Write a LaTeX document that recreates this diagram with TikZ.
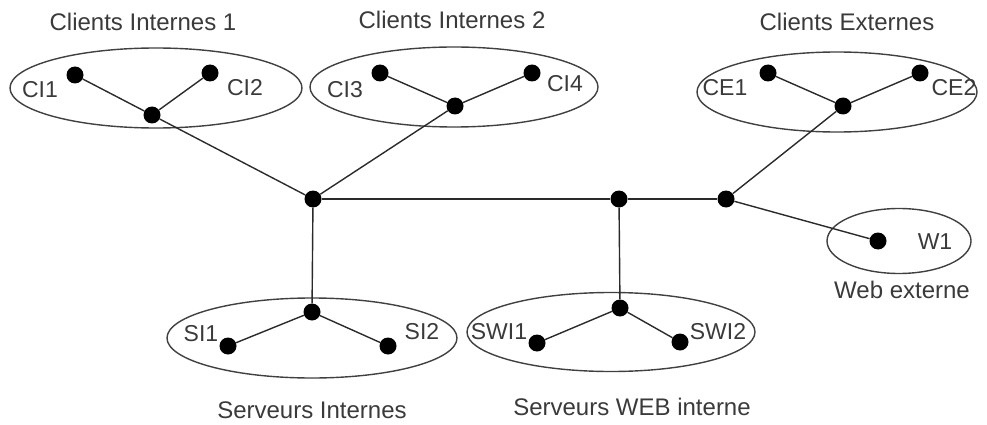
\documentclass[tikz,border=0pt]{standalone}
\usepackage{fontspec}
\setmainfont{Liberation Sans}
\usetikzlibrary{shapes.geometric}
\definecolor{txt}{HTML}{3A3A3A}
\definecolor{ln}{HTML}{2A2A2A}
\definecolor{elc}{HTML}{404040}
\tikzset{
  dot/.style={circle, fill=black, inner sep=0pt, minimum size=17pt},
  grp/.style={ellipse, draw=elc, line width=1.4pt, inner sep=0pt},
  lbl/.style={text=txt, font=\fontsize{23}{25}\selectfont, inner sep=0pt},
  ttl/.style={text=txt, font=\fontsize{24}{26}\selectfont, inner sep=0pt},
  wire/.style={draw=ln, line width=1.4pt}
}
\begin{document}
\begin{tikzpicture}[x=1pt, y=-1pt]
\useasboundingbox (0,0) rectangle (987,425);
% group ellipses
\node[grp, minimum width=292pt, minimum height=80pt] (e1) at (156,88) {};
\node[grp, minimum width=288pt, minimum height=80pt] (e2) at (454,87) {};
\node[grp, minimum width=280pt, minimum height=80pt] (e3) at (837,92) {};
\node[grp, minimum width=144pt, minimum height=65pt] (e4) at (899,241) {};
\node[grp, minimum width=290pt, minimum height=80pt] (e5) at (312,338) {};
\node[grp, minimum width=288pt, minimum height=79pt] (e6) at (611,332) {};
% titles
\node[ttl] (t1) at (143,22) {Clients Internes 1};
\node[ttl] (t2) at (452,20) {Clients Internes 2};
\node[ttl] (t3) at (847,22) {Clients Externes};
\node[ttl] (t4) at (902,290) {Web externe};
\node[ttl] (t5) at (312,410) {Serveurs Internes};
\node[ttl] (t6) at (632,407) {Serveurs WEB interne};
% dots
\node[dot] (ci1) at (75,75) {};
\node[dot] (ci2) at (210,73) {};
\node[dot] (h1) at (152,115) {};
\node[dot] (ci3) at (380,73) {};
\node[dot] (ci4) at (532,73) {};
\node[dot] (h2) at (455,106) {};
\node[dot] (ce1) at (768,73) {};
\node[dot] (ce2) at (920,73) {};
\node[dot] (h3) at (843,106) {};
\node[dot] (a) at (313,199) {};
\node[dot] (b) at (619,199) {};
\node[dot] (c) at (726,199) {};
\node[dot] (w1) at (878,241) {};
\node[dot] (hs) at (312,312) {};
\node[dot] (si1) at (228,346) {};
\node[dot] (si2) at (388,346) {};
\node[dot] (hw) at (620,308) {};
\node[dot] (swi1) at (537,343) {};
\node[dot] (swi2) at (680,342) {};
% labels
\node[lbl] (l1) at (40,90) {CI1};
\node[lbl] (l2) at (245,88) {CI2};
\node[lbl] (l3) at (345,90) {CI3};
\node[lbl] (l4) at (565,84) {CI4};
\node[lbl] (l5) at (725,88) {CE1};
\node[lbl] (l6) at (954,88) {CE2};
\node[lbl] (l7) at (935,242) {W1};
\node[lbl] (l8) at (201,334) {SI1};
\node[lbl] (l9) at (422,332) {SI2};
\node[lbl] (l10) at (499,332) {SWI1};
\node[lbl] (l11) at (718,332) {SWI2};
% wires
\draw[wire] (ci1) -- (h1) -- (ci2);
\draw[wire] (h1) -- (a);
\draw[wire] (ci3) -- (h2) -- (ci4);
\draw[wire] (h2) -- (a);
\draw[wire] (ce1) -- (h3) -- (ce2);
\draw[wire] (h3) -- (c);
\draw[wire] (a) -- (b) -- (c);
\draw[wire] (c) -- (w1);
\draw[wire] (a) -- (hs);
\draw[wire] (si1) -- (hs) -- (si2);
\draw[wire] (b) -- (hw);
\draw[wire] (swi1) -- (hw) -- (swi2);
\end{tikzpicture}
\end{document}
